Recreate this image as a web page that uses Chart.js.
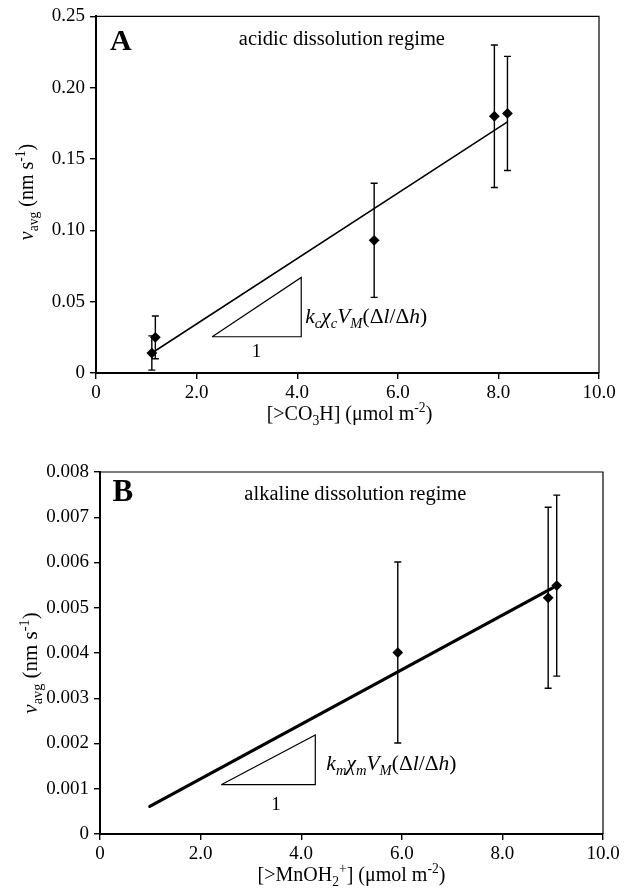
<!DOCTYPE html>
<html><head><meta charset="utf-8">
<script src="https://cdn.jsdelivr.net/npm/chart.js@4/dist/chart.umd.min.js"></script>
<style>
html,body{margin:0;padding:0;background:#fff;}
#wrap{position:relative;width:638px;height:891px;overflow:hidden;}
canvas{position:absolute;left:0;}
#cA{top:0;} #cB{top:440px;}
</style></head><body>
<div id="wrap"><canvas id="cA" width="638" height="432"></canvas><canvas id="cB" width="638" height="451"></canvas></div>
<script>
// ---------- Panel A data ----------
const xA = [1.11, 1.18, 5.53, 7.92, 8.18];
const yA = [0.014, 0.025, 0.093, 0.180, 0.182];
const errA = [0.012, 0.015, 0.040, 0.050, 0.040];
const fitXA = [1.18, 8.18];
const fitYA = [0.0156, 0.176];
const triXA = [2.31, 4.08, 4.08, 2.31];
const triYA = [0.0254, 0.0254, 0.067, 0.0254];
const xTickLabelsA = ['0', '2.0', '4.0', '6.0', '8.0', '10.0'];
const yTickLabelsA = ['0', '0.05', '0.10', '0.15', '0.20', '0.25'];

// ---------- Panel B data ----------
const xB = [5.92, 8.91, 9.08];
const yB = [0.00401, 0.00522, 0.00549];
const errB = [0.0020, 0.0020, 0.0020];
const fitXB = [0.99, 9.0];
const fitYB = [0.00061, 0.00544];
const triXB = [2.41, 4.28, 4.28, 2.41];
const triYB = [0.00109, 0.00109, 0.00219, 0.00109];
const xTickLabelsB = ['0', '2.0', '4.0', '6.0', '8.0', '10.0'];
const yTickLabelsB = ['0', '0.001', '0.002', '0.003', '0.004', '0.005', '0.006', '0.007', '0.008'];

const FAM = '"Liberation Serif", "Times New Roman", serif';

function pts(xs, ys) { return xs.map((x, i) => ({ x: x, y: ys[i] })); }

function drawRich(ctx, segs, x, y, align, base) {
  const ms = [];
  let total = 0;
  for (const s of segs) {
    const size = (s.k || 1) * base;
    ctx.font = (s.it ? 'italic ' : 'normal ') + (s.b ? 'bold ' : 'normal ') + size + 'px ' + FAM;
    const w = ctx.measureText(s.t).width;
    ms.push(w); total += w;
  }
  let cx = align === 'center' ? x - total / 2 : x;
  ctx.textBaseline = 'alphabetic';
  ctx.textAlign = 'left';
  ctx.fillStyle = '#000';
  segs.forEach((s, i) => {
    const size = (s.k || 1) * base;
    ctx.font = (s.it ? 'italic ' : 'normal ') + (s.b ? 'bold ' : 'normal ') + size + 'px ' + FAM;
    ctx.fillText(s.t, cx, y + (s.dy || 0) * base);
    cx += ms[i];
  });
}
const SUB = { k: 0.68, dy: 0.25 };
const SUP = { k: 0.68, dy: -0.4 };
function sub(t, it) { return Object.assign({ t: t, it: !!it }, SUB); }
function sup(t) { return Object.assign({ t: t }, SUP); }

const yTitleSegs = [{ t: 'ν', it: true }, sub('avg'), { t: ' (nm s' }, sup('-1'), { t: ')' }];

const decor = {
  id: 'decor',
  beforeDatasetsDraw(chart, args, o) {
    const ctx = chart.ctx, xs = chart.scales.x, ys = chart.scales.y;
    ctx.save();
    ctx.strokeStyle = '#000';
    ctx.lineWidth = 1.4;
    o.ex.forEach((xv, i) => {
      const px = xs.getPixelForValue(xv);
      const t = ys.getPixelForValue(o.ey[i] + o.err[i]);
      const b = ys.getPixelForValue(o.ey[i] - o.err[i]);
      ctx.beginPath();
      ctx.moveTo(px, t); ctx.lineTo(px, b);
      ctx.moveTo(px - 3.5, t); ctx.lineTo(px + 3.5, t);
      ctx.moveTo(px - 3.5, b); ctx.lineTo(px + 3.5, b);
      ctx.stroke();
    });
    ctx.restore();
  },
  afterDraw(chart, args, o) {
    const ctx = chart.ctx, a = chart.chartArea, xs = chart.scales.x, ys = chart.scales.y;
    ctx.save();
    // frame top & right
    ctx.strokeStyle = '#000';
    ctx.lineWidth = 1.2;
    ctx.beginPath();
    ctx.moveTo(a.left, a.top); ctx.lineTo(a.right, a.top); ctx.lineTo(a.right, a.bottom);
    ctx.stroke();
    // annotations in data coords
    o.notes.forEach(n => {
      drawRich(ctx, n.segs, xs.getPixelForValue(n.x), ys.getPixelForValue(n.y), n.align || 'left', n.size);
    });
    // x title
    drawRich(ctx, o.xTitle, (a.left + a.right) / 2 + o.xTitleDx, a.bottom + o.xTitleDy, 'center', o.titleSize);
    // y title rotated
    ctx.translate(o.yTitleX, o.yTitleY);
    ctx.rotate(-Math.PI / 2);
    drawRich(ctx, yTitleSegs, 0, 0, 'center', o.yTitleSize);
    ctx.restore();
  }
};

function makeChart(id, cfg) {
  const tickFont = { family: FAM, size: 19 };
  return new Chart(document.getElementById(id), {
    type: 'scatter',
    data: {
      datasets: [
        { data: pts(cfg.x, cfg.y), pointStyle: 'rectRot', pointRadius: 5.4, pointBackgroundColor: '#000', pointBorderColor: '#000', pointBorderWidth: 0, showLine: false },
        { data: pts(cfg.fitX, cfg.fitY), showLine: true, borderColor: '#000', borderWidth: cfg.fitW, pointRadius: 0, borderCapStyle: 'round' },
        { data: pts(cfg.triX, cfg.triY), showLine: true, borderColor: '#000', borderWidth: 1.2, pointRadius: 0, tension: 0 }
      ]
    },
    options: {
      responsive: false,
      animation: false,
      events: [],
      layout: { padding: cfg.pad },
      plugins: {
        legend: { display: false },
        tooltip: { enabled: false },
        decor: cfg.decor
      },
      scales: {
        x: {
          type: 'linear', min: 0, max: 10,
          afterFit(s) { s.height = cfg.xH; },
          ticks: { stepSize: 2, color: '#000', font: tickFont, padding: 3, maxRotation: 0,
                   callback: (v) => cfg.xLabels[Math.round(v / 2)] },
          grid: { drawOnChartArea: false, drawTicks: true, tickLength: 6, color: '#000', lineWidth: 1.4 },
          border: { display: true, color: '#000', width: 2 }
        },
        y: {
          type: 'linear', min: 0, max: cfg.yMax,
          afterFit(s) { s.width = cfg.yW; },
          ticks: { stepSize: cfg.yStep, color: '#000', font: tickFont, padding: 5,
                   callback: (v, i) => cfg.yLabels[i] },
          grid: { drawOnChartArea: false, drawTicks: true, tickLength: 6, color: '#000', lineWidth: 1.4 },
          border: { display: true, color: '#000', width: 2 }
        }
      }
    },
    plugins: [decor]
  });
}

makeChart('cA', {
  x: xA, y: yA, fitX: fitXA, fitY: fitYA, triX: triXA, triY: triYA, fitW: 1.5,
  xLabels: xTickLabelsA, yLabels: yTickLabelsA, yMax: 0.25, yStep: 0.05,
  pad: { left: 0, top: 16, right: 39, bottom: 0 }, xH: 59, yW: 96,
  decor: {
    ex: xA, ey: yA, err: errA,
    notes: [
      { x: 0.278, y: 0.2263, size: 30, segs: [{ t: 'A', b: true }] },
      { x: 2.84, y: 0.2297, size: 20.5, segs: [{ t: 'acidic dissolution regime' }] },
      { x: 3.19, y: 0.0114, size: 19, align: 'center', segs: [{ t: '1' }] },
      { x: 4.16, y: 0.035, size: 21.5, segs: [{ t: 'k', it: true }, sub('c', true), { t: 'χ', it: true }, sub('c', true), { t: 'V', it: true }, sub('M', true), { t: '(Δ' }, { t: 'l', it: true }, { t: '/Δ' }, { t: 'h', it: true }, { t: ')' }] }
    ],
    xTitle: [{ t: '[>CO' }, sub('3'), { t: 'H] (μmol m' }, sup('-2'), { t: ')' }],
    xTitleDx: 2, xTitleDy: 47, titleSize: 20,
    yTitleX: 33, yTitleY: 192, yTitleSize: 20
  }
});

makeChart('cB', {
  x: xB, y: yB, fitX: fitXB, fitY: fitYB, triX: triXB, triY: triYB, fitW: 3.2,
  xLabels: xTickLabelsB, yLabels: yTickLabelsB, yMax: 0.008, yStep: 0.001,
  pad: { left: 0, top: 32, right: 35, bottom: 0 }, xH: 57, yW: 100,
  decor: {
    ex: xB, ey: yB, err: errB,
    notes: [
      { x: 0.25, y: 0.00737, size: 31, segs: [{ t: 'B', b: true }] },
      { x: 2.87, y: 0.00739, size: 20.5, segs: [{ t: 'alkaline dissolution regime' }] },
      { x: 3.50, y: 0.000537, size: 19, align: 'center', segs: [{ t: '1' }] },
      { x: 4.50, y: 0.00142, size: 21.5, segs: [{ t: 'k', it: true }, sub('m', true), { t: 'χ', it: true }, sub('m', true), { t: 'V', it: true }, sub('M', true), { t: '(Δ' }, { t: 'l', it: true }, { t: '/Δ' }, { t: 'h', it: true }, { t: ')' }] }
    ],
    xTitle: [{ t: '[>MnOH' }, sub('2'), sup('+'), { t: '] (μmol m' }, sup('-2'), { t: ')' }],
    xTitleDx: 0, xTitleDy: 47, titleSize: 20,
    yTitleX: 37, yTitleY: 223, yTitleSize: 21
  }
});
</script>
</body></html>
